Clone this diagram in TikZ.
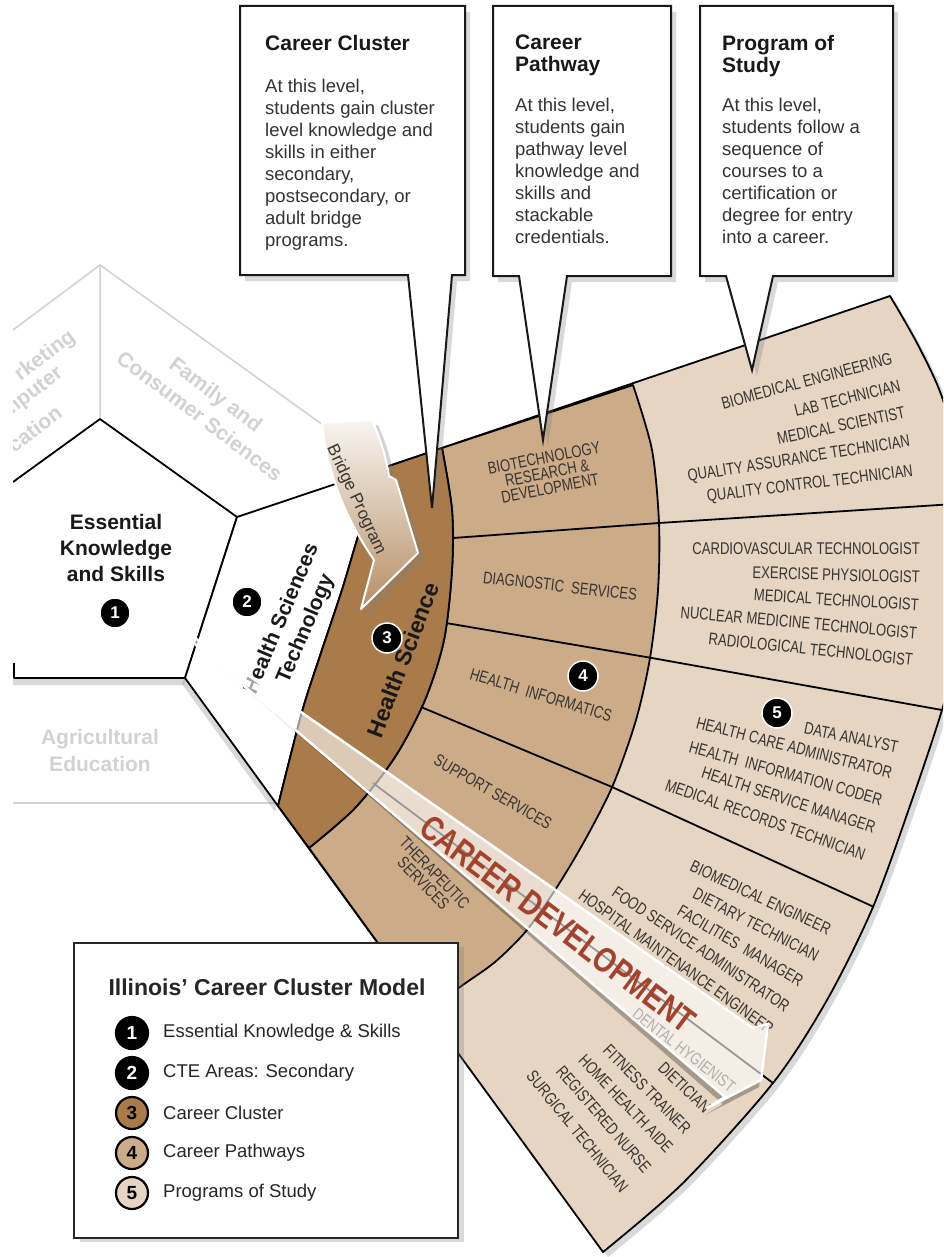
\documentclass[tikz,border=0pt]{standalone}
\usepackage{fontspec}
\setmainfont{Liberation Sans}
\newfontfamily\narrowfont{Liberation Sans}[FakeStretch=0.77]
\newfontfamily\careerfont{Liberation Sans}[FakeStretch=0.79]
\usetikzlibrary{shadows}

\definecolor{clusterbrown}{HTML}{A97B4B}
\definecolor{pathwaytan}{HTML}{CCAB89}
\definecolor{programbeige}{HTML}{E5D5C2}
\definecolor{ghostgrey}{HTML}{D2D2D2}
\definecolor{labelgrey}{HTML}{3A3430}
\definecolor{careerred}{HTML}{A3432D}

\tikzset{
  fanline/.style={draw=black, line width=1.8pt, line join=round},
  calloutbox/.style={fill=white, draw=black!90, line width=2pt,
    drop shadow={shadow xshift=5pt, shadow yshift=-6pt, opacity=.3}},
  calltitle/.style={anchor=north west, inner sep=0, align=left, text=black!90,
    font=\bfseries\fontsize{21}{22}\selectfont},
  calltext/.style={anchor=north west, inner sep=0, align=left, text=black!80,
    font=\fontsize{18.5}{22}\selectfont},
  ghostlabel/.style={text=ghostgrey, align=center, font=\bfseries\fontsize{21}{27}\selectfont},
  ghostline/.style={draw=ghostgrey, line width=1.5pt},
  arealabel/.style={align=center, text=black!90, font=\bfseries\fontsize{21}{26}\selectfont},
  pathtext/.style={text=labelgrey, align=center, font=\narrowfont\fontsize{17}{15.5}\selectfont},
  progtext/.style={text=labelgrey, anchor=east, inner sep=0, font=\narrowfont\fontsize{17}{17}\selectfont},
  numdot/.style={circle, fill=black, draw=white, line width=1.5pt, minimum size=30pt,
    inner sep=0, text=white, font=\bfseries\fontsize{17}{17}\selectfont},
  legdot/.style={circle, draw=black, line width=2.2pt, minimum size=32pt, inner sep=0,
    font=\bfseries\fontsize{19}{19}\selectfont},
  legtext/.style={anchor=west, inner sep=0, text=black!85, font=\fontsize{18.5}{20}\selectfont},
  careerarrow/.style={fill=white, fill opacity=.6, draw=white, line width=2.5pt, line join=round}
}

\begin{document}
\begin{tikzpicture}[x=1pt, y=-1pt]
\useasboundingbox (0,0) rectangle (943,1257);
\clip (13,0) rectangle (943,1257);

% faded neighbouring areas
\draw[ghostline] (100,419) -- (100,265) -- (330,430);
\draw[ghostline] (100,265) -- (13,330);
\draw[ghostline] (13,803) -- (278,803);
\node[ghostlabel, rotate=-37] (fcs) at (208,405) {Family and\\Consumer Sciences};
\node[ghostlabel, rotate=37, anchor=east] (mkt1) at (76,333) {rketing};
\node[ghostlabel, rotate=37, anchor=east] (mkt2) at (64,370) {mputer};
\node[ghostlabel, rotate=37, anchor=east] (mkt3) at (62,408) {ucation};
\node[ghostlabel] (agri) at (100,750) {Agricultural\\Education};

% essential knowledge pentagon and CTE area
\fill[white, drop shadow={shadow xshift=-1pt, shadow yshift=-7pt, opacity=.3}]
  (13,482) -- (100,419) -- (237,517) -- (185,678) -- (13,678) -- cycle;
\draw[fanline] (13,482) -- (100,419) -- (237,517) -- (185,678) -- (14,678) -- (14,663);
\filldraw[fill=white, fanline, drop shadow={shadow xshift=-3pt, shadow yshift=-6pt, opacity=.3}]
  (237,517) -- (380,469)
  -- plot[smooth] coordinates {(380,469) (360,530) (342,590) (322,650) (302,712) (278,806)}
  -- (185,678) -- cycle;

% the fan: programs of study
\filldraw[fill=programbeige, fanline, drop shadow={shadow xshift=5pt, shadow yshift=-5pt, opacity=.3}]
  (380,469) -- (890,296)
  -- plot[smooth] coordinates {(890,296) (918,345) (943,400) (962,480) (968,560) (960,640)
     (942,710) (912,800) (873,907) (827,1000) (773,1083) (683,1183) (603,1252)}
  -- (278,806)
  -- plot[smooth] coordinates {(278,806) (302,712) (322,650) (342,590) (360,530) (380,469)}
  -- cycle;
% career pathways
\filldraw[fill=pathwaytan, fanline]
  (442,448) -- (633,385)
  -- plot[smooth] coordinates {(633,385) (652,450) (659,523) (658,590) (650,658) (636,720)
     (613,785) (585,840) (557,887) (527,930) (495,962) (460,987) (428,1012)}
  -- (309,848)
  -- plot[smooth] coordinates {(309,848) (355,808) (395,757) (425,700) (444,640) (452,570)
     (452,510) (442,448)}
  -- cycle;
% career cluster
\filldraw[fill=clusterbrown, fanline]
  (380,469) -- (442,448)
  -- plot[smooth] coordinates {(442,448) (452,510) (452,570) (444,640) (425,700) (395,757)
     (355,808) (309,848)}
  -- (278,806)
  -- plot[smooth] coordinates {(278,806) (302,712) (322,650) (342,590) (360,530) (380,469)}
  -- cycle;
% dividers
\draw[fanline] (453,538) -- (659,523) -- (970,503);
\draw[fanline] (446,623) -- (652,658) -- (942,710);
\draw[fanline] (421,707) -- (612,787) -- (874,907);
\draw[fanline] (373,783) -- (773,1083);

% bridge program arrow
\path[top color=white!92!clusterbrown, bottom color=clusterbrown!85!white, draw=white,
  line width=2pt, line join=round,
  drop shadow={shadow xshift=6pt, shadow yshift=-5pt, opacity=.35}]
  (322,423) -- (372,420) .. controls (381,440) and (386,458) .. (389,476)
  -- (396,480) -- (418,553) -- (361,609) -- (374,560)
  .. controls (350,525) and (328,480) .. (322,423) -- cycle;
\node[font=\fontsize{17}{17}\selectfont, text=labelgrey, rotate=-65] (bridgetext) at (356,500) {Bridge Program};

% callouts
\path[calloutbox] (240,6) -- (465,6) -- (465,275) -- (452,275) -- (432,508) -- (408,275) -- (240,275) -- cycle;
\path[calloutbox] (493,6) -- (671,6) -- (671,276) -- (567,276) -- (543,440) -- (519,276) -- (493,276) -- cycle;
\path[calloutbox] (700,6) -- (893,6) -- (893,276) -- (773,276) -- (752,370) -- (726,276) -- (700,276) -- cycle;
\node[calltitle] (cctitle) at (265,35) {Career Cluster};
\node[calltext] (cctext) at (265,79) {At this level,\\students gain cluster\\level knowledge and\\skills in either\\secondary,\\postsecondary, or\\adult bridge\\programs.};
\node[calltitle] (cptitle) at (515,35) {Career\\Pathway};
\node[calltext] (cptext) at (515,98) {At this level,\\students gain\\pathway level\\knowledge and\\skills and\\stackable\\credentials.};
\node[calltitle] (pstitle) at (722,35) {Program of\\Study};
\node[calltext] (pstext) at (722,98) {At this level,\\students follow a\\sequence of\\courses to a\\certification or\\degree for entry\\into a career.};

% area labels
\node[arealabel] (ekstext) at (116,548) {Essential\\Knowledge\\and Skills};
\node[arealabel, rotate=67] (hsttext) at (294,624) {Health Sciences\\Technology};
\node[arealabel, rotate=69, font=\bfseries\fontsize{23}{23}\selectfont] (hstext) at (403,660) {Health Science};

% pathways
\node[pathtext, rotate=11] (biotech) at (547,473) {BIOTECHNOLOGY\\RESEARCH \&\\DEVELOPMENT};
\node[pathtext, rotate=-6.5] (diag) at (560,586) {DIAGNOSTIC\ \ SERVICES};
\node[pathtext, rotate=-17] (informatics) at (541,695) {HEALTH\ \ INFORMATICS};
\node[pathtext, rotate=-30] (support) at (493,792) {SUPPORT SERVICES};
\node[pathtext, rotate=-46] (therapeutic) at (429,878) {THERAPEUTIC\\SERVICES};

% programs of study
\foreach \px/\py/\ang/\job [count=\i] in {
  892/358/15/BIOMEDICAL ENGINEERING,
  900/385/14/LAB TECHNICIAN,
  905/412/12/MEDICAL SCIENTIST,
  910/442/9/QUALITY ASSURANCE TECHNICIAN,
  913/472/7/QUALITY CONTROL TECHNICIAN,
  920/549/0/CARDIOVASCULAR TECHNOLOGIST,
  920/577/-1.5/EXERCISE PHYSIOLOGIST,
  919/605/-3.5/MEDICAL TECHNOLOGIST,
  917/633/-5/NUCLEAR MEDICINE TECHNOLOGIST,
  913/660/-6/RADIOLOGICAL TECHNOLOGIST,
  898/747/-11.5/DATA ANALYST,
  892/773/-14.5/HEALTH CARE ADMINISTRATOR,
  882/800/-15.5/HEALTH\ \ INFORMATION CODER,
  875/828/-18/HEALTH SERVICE MANAGER,
  865/855/-19.5/MEDICAL RECORDS TECHNICIAN,
  830/930/-25/BIOMEDICAL ENGINEER,
  818/957/-27.5/DIETARY TECHNICIAN,
  802/982/-30.5/FACILITIES\ \ MANAGER,
  788/1008/-34/FOOD SERVICE ADMINISTRATOR,
  772/1030/-35.5/HOSPITAL MAINTENANCE ENGINEER,
  708/1110/-44/DIETICIAN,
  688/1131/-45.5/FITNESS TRAINER,
  670/1150/-46.5/HOME HEALTH AIDE,
  648/1170/-49/REGISTERED NURSE,
  625/1190/-51/SURGICAL TECHNICIAN}
  \node[progtext, rotate=\ang] (job\i) at (\px,\py) {\job};
\node[progtext, anchor=center, rotate=-38] (dental) at (684,1050) {DENTAL HYGIENIST};

% numbered markers
\node[numdot] (n1) at (115,613) {1};
\node[numdot] (n2) at (247,602) {2};
\node[numdot] (n3) at (387,638) {3};
\node[numdot] (n4) at (583,676) {4};
\node[numdot] (n5) at (777,713) {5};

% career development arrow
\coordinate (cdstart) at (155,610);
\begin{scope}
  \clip (0,0) -- (943,0) -- (943,1257) -- (0,1257) -- cycle
    (cdstart) -- (725,1097) -- (707,1108) -- (761,1080) -- (768,1024) -- (753,1028) -- cycle;
  \fill[black, opacity=.28, shift={(-2,7)}]
    (cdstart) -- (753,1028) -- (768,1024) -- (761,1080) -- (707,1108) -- (725,1097) -- cycle;
\end{scope}
\path[careerarrow] (cdstart) -- (753,1028) -- (768,1024) -- (761,1080) -- (707,1108) -- (725,1097) -- cycle;
\node[text=careerred, rotate=-37, font=\careerfont\bfseries\fontsize{35}{35}\selectfont] (cdtext) at (558,924) {CAREER DEVELOPMENT};

% legend
\filldraw[fill=white, draw=black!85, line width=2.5pt,
  drop shadow={shadow xshift=6pt, shadow yshift=-4pt, opacity=.3}] (74,943) rectangle (458,1238);
\node[font=\bfseries\fontsize{23}{23}\selectfont, text=black!85] (legtitle) at (267,987) {Illinois’ Career Cluster Model};
\foreach \n/\yy/\fillc/\txtc/\lbl in {
  1/1033/black/white/Essential Knowledge \& Skills,
  2/1073/black/white/CTE Areas: Secondary,
  3/1113/clusterbrown/black/Career Cluster,
  4/1153/pathwaytan/black/Career Pathways,
  5/1193/programbeige/black/Programs of Study} {
  \node[legdot, fill=\fillc, text=\txtc] (leg\n) at (132,\yy) {\n};
  \node[legtext] (legtxt\n) at (163,\yy) {\lbl};
}
\end{tikzpicture}
\end{document}
